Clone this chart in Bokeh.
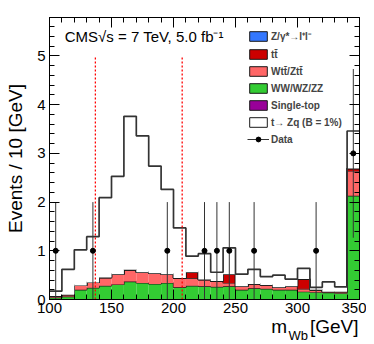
import numpy as np
from bokeh.plotting import figure
from bokeh.models import (ColumnDataSource, LinearAxis, SingleIntervalTicker,
                          Legend, LegendItem, Label, Range1d, Title)
from bokeh.embed import file_html
from bokeh.resources import INLINE

# ---------------- data ----------------
bin_edges = [100, 110, 120, 130, 140, 150, 160, 170, 180, 190, 200, 210, 220,
             230, 240, 250, 260, 270, 280, 290, 300, 310, 320, 330, 340, 350]
ww_wz_zz = [0.04, 0.06, 0.20, 0.24, 0.28, 0.31, 0.37, 0.34, 0.32, 0.34, 0.25, 0.28,
            0.27, 0.26, 0.27, 0.20, 0.23, 0.22, 0.20, 0.20, 0.16, 0.15, 0.14, 0.13, 2.13]
wtt_ztt = [0.03, 0.04, 0.09, 0.11, 0.17, 0.21, 0.24, 0.22, 0.22, 0.18, 0.19, 0.16,
           0.14, 0.12, 0.07, 0.07, 0.09, 0.08, 0.05, 0.07, 0.06, 0.05, 0.02, 0.03, 0.51]
ttbar = [0.0, 0.0, 0.0, 0.0, 0.0, 0.0, 0.0, 0.0, 0.0, 0.0, 0.0, 0.12,
         0.0, 0.0, 0.18, 0.0, 0.0, 0.0, 0.0, 0.0, 0.20, 0.0, 0.0, 0.0, 0.05]
z_gamma = [0.0, 0.0, 0.0, 0.0, 0.0, 0.0, 0.0, 0.0, 0.0, 0.0, 0.0, 0.0,
           0.0, 0.0, 0.0, 0.0, 0.0, 0.0, 0.0, 0.0, 0.0, 0.0, 0.0, 0.0, 0.0]
single_top = [0.0, 0.0, 0.0, 0.0, 0.0, 0.0, 0.0, 0.0, 0.0, 0.0, 0.0, 0.0,
              0.0, 0.0, 0.0, 0.0, 0.0, 0.0, 0.0, 0.0, 0.0, 0.0, 0.0, 0.0, 0.0]
signal_tzq = [0.10, 0.52, 0.73, 0.94, 1.64, 2.01, 3.15, 2.80, 2.20, 1.74, 1.03, 0.33,
              0.53, 0.18, 0.54, 0.25, 0.30, 0.17, 0.25, 0.15, 0.22, 0.05, 0.20, 0.10, 0.77]
data_counts = [1, 0, 0, 1, 0, 0, 0, 0, 0, 1, 0, 0,
               1, 1, 1, 0, 1, 0, 0, 0, 0, 1, 0, 0, 3]
mass_window = [137, 207]
window_height = [5.0, 5.0]

x_ticks_major = 50
y_ticks_major = 1

# ---------------- figure ----------------
FONT = "Liberation Sans"
p = figure(frame_width=310, frame_height=282,
           x_range=Range1d(100, 350), y_range=Range1d(0, 5.79),
           output_backend="svg", toolbar_location=None,
           x_axis_type=None, y_axis_type=None,
           min_border_left=49, min_border_right=7, min_border_top=17, min_border_bottom=42)
p.outline_line_color = "black"
p.outline_line_width = 1
p.background_fill_color = "white"
p.border_fill_color = "white"
p.xgrid.visible = False
p.ygrid.visible = False


def make_axis(kind, show_labels):
    if kind == "x":
        t = SingleIntervalTicker(interval=x_ticks_major, num_minor_ticks=5)
    else:
        t = SingleIntervalTicker(interval=y_ticks_major, num_minor_ticks=5)
    ax = LinearAxis(ticker=t)
    ax.major_tick_in = 10
    ax.major_tick_out = 0
    ax.minor_tick_in = 5
    ax.minor_tick_out = 0
    ax.axis_line_color = "black"
    ax.major_tick_line_color = "black"
    ax.minor_tick_line_color = "black"
    if show_labels:
        ax.major_label_text_font = FONT
        ax.major_label_text_font_size = "15px"
        ax.major_label_text_color = "black"
    else:
        ax.major_label_text_font_size = "0px"
        ax.major_label_standoff = 0
    return ax


xb = make_axis("x", True)
xb.major_label_standoff = 3
yl = make_axis("y", True)
yl.major_label_standoff = 4
yl.axis_label = "Events / 10 [GeV]"
yl.axis_label_text_font = FONT
yl.axis_label_text_font_size = "19px"
yl.axis_label_text_font_style = "normal"
yl.axis_label_text_color = "black"
yl.axis_label_standoff = 8
try:
    yl.axis_label_align = "right"
except Exception:
    pass
p.add_layout(xb, "below")
p.add_layout(yl, "left")
p.add_layout(make_axis("x", False), "above")
p.add_layout(make_axis("y", False), "right")

# x-axis title, right aligned under the frame
xt = Title(text="m\u2002\u2002\u2009[GeV]", align="right", text_font=FONT,
           text_font_size="19px", text_font_style="normal", text_color="black")
try:
    xt.standoff = -3
except Exception:
    pass
xt.offset = 1
p.add_layout(xt, "below")

# ---------------- stacked histograms ----------------
edges = np.array(bin_edges, dtype=float)
left, right = edges[:-1], edges[1:]
layers = [
    ("WW/WZ/ZZ", ww_wz_zz, "#33cc33"),
    ("Wtt̄/Ztt̄", wtt_ztt, "#ff6666"),
    ("tt̄", ttbar, "#cc0000"),
    ("Z/γ*→l⁺l⁻", z_gamma, "#3377ff"),
    ("Single-top", single_top, "#990099"),
    ("t→ Zq (B = 1%)", signal_tzq, "white"),
]
bottom = np.zeros(len(left))
proxies = {}
for name, vals, col in layers:
    top = bottom + np.array(vals, dtype=float)
    src = ColumnDataSource(dict(left=left, right=right, bottom=bottom.copy(), top=top))
    p.quad(left="left", right="right", bottom="bottom", top="top", source=src,
           fill_color=col, line_color=None)
    is_sig = col == "white"
    p.step(x=list(edges), y=list(top) + [top[-1]], mode="after",
           line_color="#333333" if is_sig else "#1a1a1a",
           line_width=1.7 if is_sig else 1.3)
    proxies[name] = p.quad(left="left", right="right", bottom="bottom", top="top",
                           source=src, fill_color=col, line_color="#1a1a1a",
                           line_width=1, visible=False)
    bottom = top

# mass window lines
p.segment(x0=mass_window, x1=mass_window, y0=[0, 0], y1=window_height,
          line_color="#ff0000", line_width=1.3, line_dash="2 2")

# ---------------- data ----------------
centers = (left + right) / 2
counts = np.array(data_counts, dtype=float)
mask = counts > 0
err = np.sqrt(counts[mask])
dsrc = ColumnDataSource(dict(x=centers[mask], y=counts[mask],
                             lo=counts[mask] - err, hi=counts[mask] + err))
seg = p.segment(x0="x", x1="x", y0="lo", y1="hi", source=dsrc,
                line_color="#333333", line_width=1)
pts = p.scatter(x="x", y="y", source=dsrc, size=5, marker="circle",
                fill_color="black", line_color="black")

# ---------------- legend ----------------
order = ["Z/γ*→l⁺l⁻", "tt̄", "Wtt̄/Ztt̄", "WW/WZ/ZZ", "Single-top", "t→ Zq (B = 1%)"]
items = [LegendItem(label=n, renderers=[proxies[n]]) for n in order]
items.append(LegendItem(label="Data", renderers=[seg, pts]))
leg = Legend(items=items, location=(198, 154), padding=0, margin=0, spacing=5,
             glyph_width=22, glyph_height=12, label_height=12, label_standoff=2,
             label_text_font=FONT, label_text_font_style="bold",
             label_text_font_size="10px", border_line_alpha=0,
             background_fill_alpha=0)
p.add_layout(leg)

# ---------------- texts ----------------
p.add_layout(Label(x=112.3, y=5.39, text="CMS√s = 7 TeV, 5.0 fb⁻¹",
                   text_font=FONT, text_font_size="15px", text_color="black",
                   text_baseline="alphabetic", text_align="left"))
# subscript of the x-axis title (kept in the top side panel so it is not clipped)
p.add_layout(Label(x=292.7, y=-0.74, text="Wb", text_font=FONT, text_font_size="13px",
                   text_color="black", text_align="left", text_baseline="alphabetic"),
             "above")

open("out.html", "w").write(file_html(p, INLINE))
